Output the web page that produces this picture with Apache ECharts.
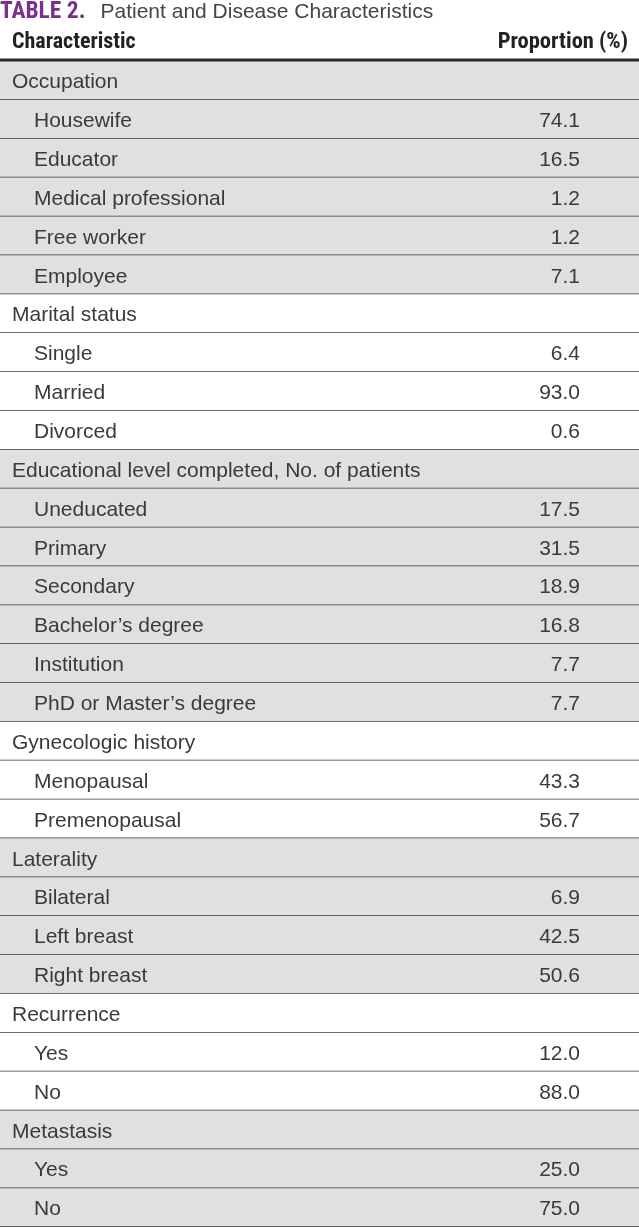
<!DOCTYPE html>
<html><head><meta charset="utf-8">
<script src="https://cdn.jsdelivr.net/npm/echarts@6/dist/echarts.min.js"></script>
<style>html,body{margin:0;padding:0;background:#fff}#c{width:639px;height:1227px}</style>
</head><body><div id="c"></div>
<script>
const NARROW = '"Liberation Sans Narrow","Roboto Condensed","Liberation Sans",Arial,sans-serif';
const FONT = '"Liberation Sans",Arial,sans-serif';
const titleLabel = 'TABLE 2.';
const titleText = 'Patient and Disease Characteristics';
const colHeaders = ['Characteristic', 'Proportion (%)'];
const rowLabels = [
  'Occupation','Housewife','Educator','Medical professional','Free worker','Employee',
  'Marital status','Single','Married','Divorced',
  'Educational level completed, No. of patients','Uneducated','Primary','Secondary',"Bachelor\u2019s degree",'Institution',"PhD or Master\u2019s degree",
  'Gynecologic history','Menopausal','Premenopausal',
  'Laterality','Bilateral','Left breast','Right breast',
  'Recurrence','Yes','No',
  'Metastasis','Yes','No'
];
const rowValues = [
  null,74.1,16.5,1.2,1.2,7.1,
  null,6.4,93.0,0.6,
  null,17.5,31.5,18.9,16.8,7.7,7.7,
  null,43.3,56.7,
  null,6.9,42.5,50.6,
  null,12.0,88.0,
  null,25.0,75.0
];
// shading: group index alternating gray/white
const shade = [];
let g = -1;
rowValues.forEach(v => { if (v === null) g++; shade.push(g % 2 === 0 ? 1 : 0); });
const cats = rowLabels.map((_, i) => 'r' + i);
const data = rowLabels.map((l, i) => [i, rowValues[i] === null ? 0 : rowValues[i], shade[i]]);

const chart = echarts.init(document.getElementById('c'), null, {renderer: 'canvas'});
chart.setOption({
  animation: false,
  title: [{
    text: '{a|' + titleLabel + '}   {b|' + titleText + '}',
    left: 0, top: 0, padding: 0,
    textStyle: {rich: {
      a: {fontFamily: NARROW, fontWeight: 'bold', fontSize: 23.5, color: '#7a2f8b', lineHeight: 24},
      b: {fontFamily: FONT, fontWeight: 'normal', fontSize: 21, color: '#444', lineHeight: 24}
    }}
  }],
  graphic: [
    {type: 'text', left: 12, top: 31, style: {text: colHeaders[0], font: 'bold 22px ' + NARROW, fill: '#222'}},
    {type: 'text', right: 11, top: 31, style: {text: colHeaders[1], font: 'bold 22.5px ' + NARROW, fill: '#222', align: 'right'}}
  ],
  grid: {left: 0, right: 0, top: 61, bottom: 0},
  xAxis: {type: 'value', min: 0, max: 100, show: false},
  yAxis: {type: 'category', data: cats, inverse: true, show: false},
  series: [{
    type: 'custom',
    data: data,
    encode: {x: 1, y: 0},
    renderItem: function (params, api) {
      const i = api.value(0);
      const c = api.coord([0, i]);
      const h = api.size([0, 1])[1];
      const W = params.coordSys.width;
      const x0 = params.coordSys.x;
      const top = c[1] - h / 2;
      const isHead = rowValues[i] === null;
      const children = [];
      children.push({type: 'rect', shape: {x: x0, y: top, width: W, height: h},
        style: {fill: api.value(2) ? '#e1dfe0' : '#ffffff'}});
      children.push({type: 'text', x: x0 + (isHead ? 12 : 34), y: c[1] + 2,
        style: {text: rowLabels[i], font: '21px ' + FONT, fill: '#3a3a3a', verticalAlign: 'middle'}});
      if (!isHead) {
        children.push({type: 'text', x: x0 + 580, y: c[1] + 2,
          style: {text: rowValues[i].toFixed(1), font: '21px ' + FONT, fill: '#3a3a3a', align: 'right', verticalAlign: 'middle'}});
      }
      children.push({type: 'line', shape: {x1: x0, y1: top + h, x2: x0 + W, y2: top + h},
        style: {stroke: '#3a3a3a', lineWidth: 1.5}});
      if (i === 0) {
        children.push({type: 'line', shape: {x1: x0, y1: top - 1, x2: x0 + W, y2: top - 1},
          style: {stroke: '#2a2a2a', lineWidth: 3}});
      }
      return {type: 'group', children: children};
    }
  }]
});
</script></body></html>
